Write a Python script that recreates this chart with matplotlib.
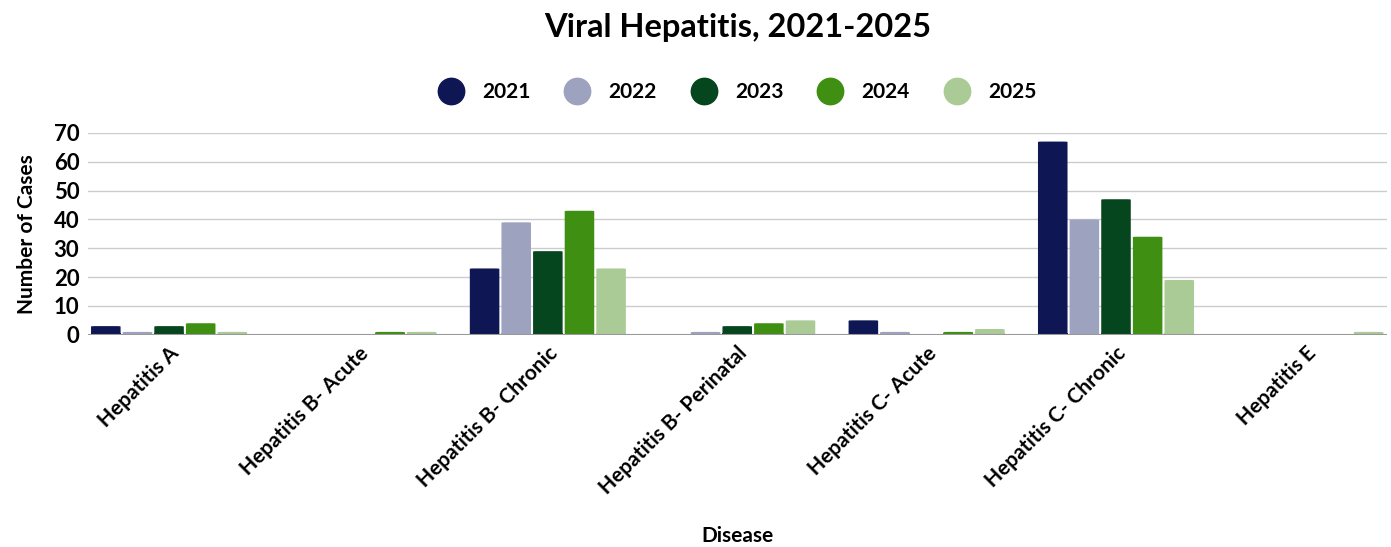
import numpy as np
import matplotlib.pyplot as plt
from matplotlib.patches import FancyBboxPatch

plt.rcParams['font.family'] = ['Lato', 'DejaVu Sans']

diseases = ["Hepatitis A", "Hepatitis B- Acute", "Hepatitis B- Chronic",
            "Hepatitis B- Perinatal", "Hepatitis C- Acute", "Hepatitis C- Chronic",
            "Hepatitis E"]
years = ["2021", "2022", "2023", "2024", "2025"]
cases_2021 = [3, 0, 23, 0, 5, 67, 0]
cases_2022 = [1, 0, 39, 1, 1, 40, 0]
cases_2023 = [3, 0, 29, 3, 0, 47, 0]
cases_2024 = [4, 1, 43, 4, 1, 34, 0]
cases_2025 = [1, 1, 23, 5, 2, 19, 1]
colors = ["#0e1654", "#9da3bf", "#05461e", "#3f8f12", "#abcb96"]

series = [cases_2021, cases_2022, cases_2023, cases_2024, cases_2025]

fig = plt.figure(figsize=(13.91, 5.47), dpi=100)
ax = fig.add_axes([0.063, 0.388, 0.934, 0.369])

x = np.arange(len(diseases))
bw = 0.167
gap = 0.011
for i, (vals, col) in enumerate(zip(series, colors)):
    offs = (i - 2) * bw
    for xi, v in zip(x, vals):
        if v <= 0:
            continue
        left = xi + offs - bw / 2 + gap / 2
        w = bw - gap
        ax.add_patch(FancyBboxPatch((left, 0), w, v,
                                    boxstyle="round,pad=0,rounding_size=0.02",
                                    mutation_aspect=7, fc=col, ec="none", zorder=3))
        ax.add_patch(plt.Rectangle((left, 0), w, min(v, 0.5), fc=col, ec="none", zorder=3))

ax.set_xlim(-0.43, len(diseases) - 0.57)
ax.set_ylim(0, 70)
ax.set_yticks(range(0, 71, 10))
ax.grid(axis="y", color="#cccccc", lw=1, zorder=0)
ax.axhline(0, color="#999999", lw=1.5, zorder=4)
for s in ax.spines.values():
    s.set_visible(False)
ax.tick_params(length=0, pad=6)
ax.set_xticks(x)
ax.set_xticklabels(diseases, rotation=45, ha="right", rotation_mode="anchor",
                   fontsize=15, fontweight="bold")
for lbl in ax.get_yticklabels():
    lbl.set_fontsize(16)
    lbl.set_fontweight("bold")
ax.set_ylabel("Number of Cases", fontsize=15, fontweight="bold", labelpad=12)
ax.set_xlabel("Disease", fontsize=15, fontweight="bold", labelpad=20)

handles = [plt.Line2D([], [], marker="o", ls="", ms=19, mfc=c, mec=c) for c in colors]
fig.legend(handles, years, loc="center", bbox_to_anchor=(0.527, 0.832), ncol=5,
           frameon=False, prop={"size": 15, "weight": "bold"}, handletextpad=0.5,
           columnspacing=1.25)
fig.suptitle("Viral Hepatitis, 2021-2025", x=0.53, fontsize=23.5, fontweight="bold", y=0.977)

fig.savefig("out.png", dpi=100)
